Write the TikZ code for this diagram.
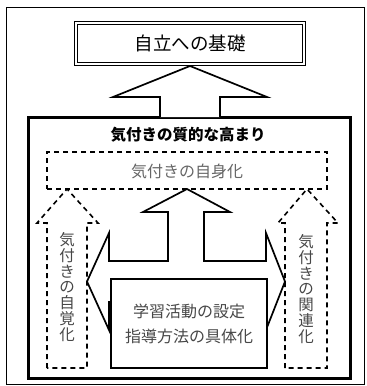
\documentclass[tikz,border=0pt]{standalone}
\usepackage{fontspec}
\newfontfamily\jp{Noto Sans CJK JP}
\begin{document}
\begin{tikzpicture}[x=1pt,y=-1pt,
  frame/.style={draw, line width=0.9pt},
  bigframe/.style={draw, line width=3pt},
  blockarrow/.style={draw, line width=1.7pt, fill=white, line join=miter},
  dasharrow/.style={draw, line width=1.6pt, dash pattern=on 5pt off 4pt},
  txt/.style={font=\jp\fontsize{16}{16}\selectfont, text=black!72, inner sep=0pt},
  vtxt/.style={font=\jp\fontsize{15.5}{15.8}\selectfont, text=black!72, inner sep=0pt, align=center}
]
\useasboundingbox (0,0) rectangle (367,386);
% outer thin frame
\draw[frame] (6,7) rectangle (364,384);
% inner thick frame
\node[bigframe, minimum width=322pt, minimum height=261pt, inner sep=0pt] (inner) at (189,247.5) {};
% top arrow
\draw[blockarrow] (160,117) -- (160,97) -- (113,97) -- (190,66) -- (267,97) -- (220,97) -- (220,117);
% top box (double border)
\node[draw, line width=1.5pt, minimum width=231pt, minimum height=44pt, inner sep=0pt,
      font=\jp\fontsize{18.5}{18.5}\selectfont, fill=white] (goal) at (190,43.5) {自立への基礎};
\draw[line width=1pt] ([shift={(3.5,3.5)}]goal.north west) rectangle ([shift={(-3.5,-3.5)}]goal.south east);
% title
\node[font=\jp\bfseries\fontsize{15.5}{15.5}\selectfont, inner sep=0pt] (title) at (188,135) {気付きの質的な高まり};
% dashed box
\node[dasharrow, minimum width=280pt, minimum height=37pt, inner sep=0pt] (self) at (187,170.5) {};
\node[txt, text=black!60] (selftxt) at (187,171) {気付きの自身化};
% left dashed arrow
\draw[dasharrow] (47,368) -- (47,223) -- (37,223) -- (67,189) -- (98,223) -- (87,223) -- (87,368) -- cycle;
\node[vtxt] (left) at (67,287) {気\\付\\き\\の\\自\\覚\\化};
% right dashed arrow
\draw[dasharrow] (285,368) -- (285,223) -- (278,223) -- (307,189) -- (338,223) -- (327,223) -- (327,368) -- cycle;
\node[vtxt] (right) at (306,289) {気\\付\\き\\の\\関\\連\\化};
% central cross arrow
\draw[blockarrow] (109,302) -- (109,330) -- (87,281.5) -- (109,233) -- (109,261) -- (168,261) -- (168,212)
  -- (143,212) -- (187,189) -- (230,212) -- (204,212) -- (204,261) -- (266,261) -- (266,233)
  -- (285,281.5) -- (266,330) -- (266,302) -- cycle;
% activity box
\node[draw, line width=1.5pt, fill=white, minimum width=156pt, minimum height=89pt, inner sep=0pt,
      align=center, font=\jp\fontsize{16}{25}\selectfont, text=black!72] (act) at (189,323.5)
      {学習活動の設定\\指導方法の具体化};
\end{tikzpicture}
\end{document}
